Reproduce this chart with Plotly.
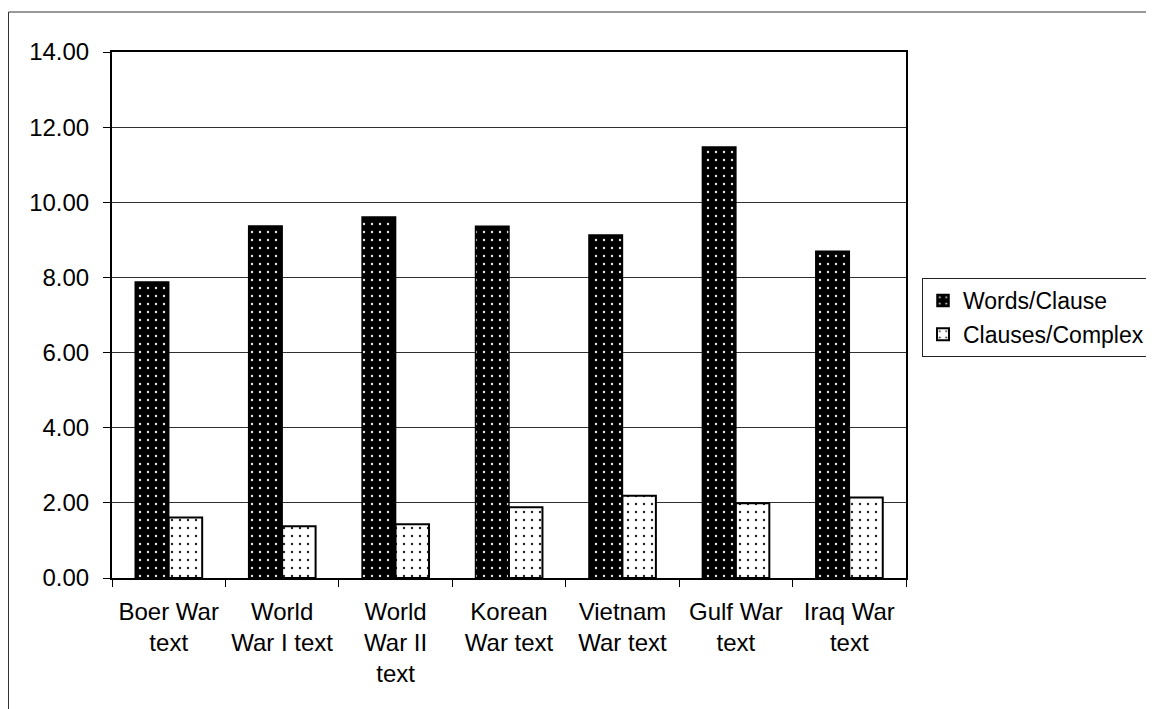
import plotly.graph_objects as go

categories = ["Boer War<br>text", "World<br>War I text", "World<br>War II<br>text",
              "Korean<br>War text", "Vietnam<br>War text", "Gulf War<br>text", "Iraq War<br>text"]
words_per_clause = [7.88, 9.37, 9.61, 9.36, 9.13, 11.47, 8.70]
clauses_per_complex = [1.61, 1.38, 1.43, 1.88, 2.19, 1.99, 2.14]
y_ticks = [0, 2, 4, 6, 8, 10, 12, 14]
y_tick_labels = ["0.00", "2.00", "4.00", "6.00", "8.00", "10.00", "12.00", "14.00"]

# the page body has an 8px margin, so the figure is laid out in page pixels minus 8
OFF = 8
W, H = 1154 - OFF, 709 - OFF
ml, mr, mt, mb = 112 - OFF, 248, 52 - OFF, 131
pw, ph = W - ml - mr, H - mt - mb

def px_x(x):
    return (x - OFF - ml) / pw

def px_y(y):
    return (H - mb - (y - OFF)) / ph

FONT = "Liberation Sans, Arial, sans-serif"
FS = 24

fig = go.Figure()
fig.add_trace(go.Bar(
    x=categories, y=words_per_clause, name="Words/Clause", legendgroup="a",
    marker=dict(color="black", line=dict(color="black", width=1.5),
                pattern=dict(shape=".", bgcolor="black", fgcolor="#e8e8e8",
                             size=8, solidity=0.07, fillmode="replace")),
))
fig.add_trace(go.Bar(
    x=categories, y=clauses_per_complex, name="Clauses/Complex", legendgroup="b",
    marker=dict(color="white", line=dict(color="black", width=2),
                pattern=dict(shape=".", bgcolor="white", fgcolor="#222222",
                             size=8, solidity=0.07, fillmode="replace")),
))

fig.update_layout(
    width=W, height=H,
    margin=dict(l=ml, r=mr, t=mt, b=mb, pad=0, autoexpand=False),
    paper_bgcolor="white", plot_bgcolor="white",
    font=dict(family=FONT, size=FS, color="black"),
    barmode="group", bargap=0.41, bargroupgap=0,
    showlegend=True,
    legend=dict(x=px_x(922), y=px_y(278), xanchor="left", yanchor="top",
                bordercolor="#222222", borderwidth=1, bgcolor="white",
                font=dict(family=FONT, size=23, color="black"),
                itemwidth=30, traceorder="grouped", tracegroupgap=1),
    shapes=[dict(type="rect", xref="paper", yref="paper",
                 x0=px_x(8.5), x1=px_x(1170), y0=px_y(12), y1=px_y(730),
                 line=dict(color="#333333", width=1), layer="below")],
)
fig.update_xaxes(
    showline=True, linewidth=2, linecolor="black", mirror=True,
    ticks="outside", ticklen=7, tickwidth=1, tickcolor="black",
    tickson="boundaries", showgrid=False, ticklabelstandoff=11,
    tickfont=dict(family=FONT, size=FS, color="black"),
)
fig.update_yaxes(
    range=[0, 14], tickvals=y_ticks, ticktext=y_tick_labels,
    showline=True, linewidth=2, linecolor="black", mirror=True,
    ticks="outside", ticklen=7, tickwidth=1, tickcolor="black",
    showgrid=True, gridcolor="#303030", gridwidth=1, zeroline=False,
    ticklabelstandoff=9,
    tickfont=dict(family=FONT, size=FS, color="black"),
)

fig.write_html("out.html")
